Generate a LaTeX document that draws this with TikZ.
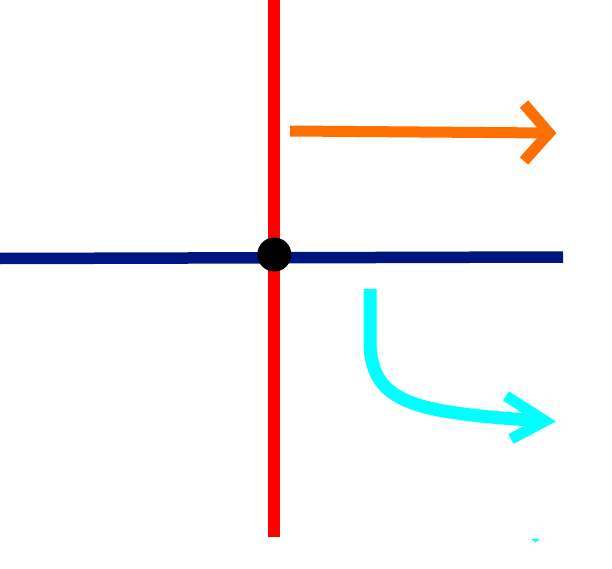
\documentclass[tikz,border=0pt]{standalone}
\definecolor{axred}{HTML}{FF0000}
\definecolor{axblue}{HTML}{001580}
\definecolor{arrorange}{HTML}{FF6F00}
\definecolor{arrcyan}{HTML}{00FFFF}
\tikzset{
  axis line/.style={line width=11.5pt, line cap=butt},
  stroke/.style={line width=11pt, line cap=butt, line join=miter},
}
\begin{document}
\begin{tikzpicture}[x=1pt,y=-1pt]
\useasboundingbox (0,0) rectangle (612,569);
% axes
\coordinate (rtop) at (274,0);
\coordinate (rbot) at (274,537);
\coordinate (bl) at (0,258.5);
\coordinate (br) at (563,257);
\draw[axis line, axred] (rtop) -- (rbot);
\draw[axis line, axblue] (bl) -- (br);
\node[circle, fill=black, minimum size=34pt, inner sep=0pt] (origin) at (274.3,254.5) {};
% orange arrow
\coordinate (os) at (290,131);
\coordinate (ot) at (549,133);
\draw[stroke, arrorange] (os) -- (ot);
\draw[stroke, arrorange] (524,104) -- (ot) -- (524,161);
% cyan arrow
\coordinate (cs) at (370,289);
\coordinate (ct) at (545,421);
\draw[stroke, arrcyan, line width=13pt] (cs) -- (370,345) .. controls (372,385) and (392,403) .. (450,412) .. controls (480,417) and (515,419) .. (ct);
\draw[stroke, arrcyan] (506,396) -- (ct) -- (511,439);
% small cyan mark
\fill[arrcyan] (531,539) -- (540,539) -- (535.5,542.5) -- cycle;
\end{tikzpicture}
\end{document}
